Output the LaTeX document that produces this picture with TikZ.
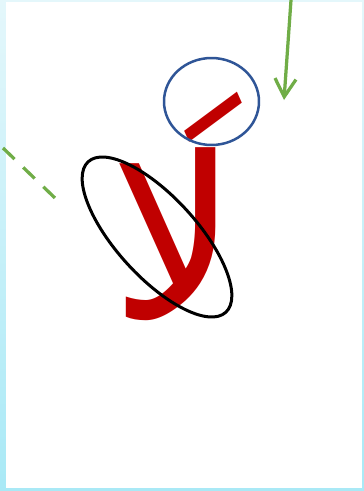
\documentclass[tikz,border=0pt]{standalone}
\usepackage{fontspec}
\newfontfamily\arabicfont[Script=Arabic]{DejaVu Sans}
\TeXXeTstate=1
\usetikzlibrary{shapes.geometric, arrows.meta, positioning}
\definecolor{glyphred}{HTML}{C00000}
\definecolor{ringblue}{HTML}{2F5597}
\definecolor{pointgreen}{HTML}{70AD47}
\definecolor{edgetop}{HTML}{E4F7FB}
\definecolor{edgebottom}{HTML}{A9E9F6}

\begin{document}
\begin{tikzpicture}[x=0.02cm, y=-0.02cm, pointer/.style={pointgreen, line width=0.065cm},
    letter/.style={text=glyphred, font=\fontsize{128}{128}\arabicfont, inner sep=0pt}]
  \shade[top color=edgetop, bottom color=edgebottom] (0,0) rectangle (364,491);
  \fill[white] (6,2) rectangle (362,488);
  \useasboundingbox (0,0) rectangle (364,491);

  \node (lamalef) at (175,234) [letter] {\beginR لا\endR};
  \node (fatha) at (189,201) [letter, rotate=24] {\beginR َ\endR};
  \node (alefring) at (157,237) [draw, line width=0.06cm, ellipse, minimum width=4.08cm, minimum height=1.6cm, rotate=-47.6] {};
  \node (fatharing) at (211.5,101.5) [draw=ringblue, line width=0.05cm, ellipse, minimum width=1.9cm, minimum height=1.74cm] {};

  \coordinate (arrowtop) at (291,0);
  \coordinate (arrowtip) at (284,100);
  \draw[pointer, -{Straight Barb[length=0.36cm, width=0.42cm]}] (arrowtop) -- (arrowtip);
  \coordinate (dashstart) at (3,148);
  \coordinate (dashend) at (55,198);
  \draw[pointer, dash pattern=on 0.32cm off 0.24cm] (dashstart) -- (dashend);
\end{tikzpicture}
\end{document}
